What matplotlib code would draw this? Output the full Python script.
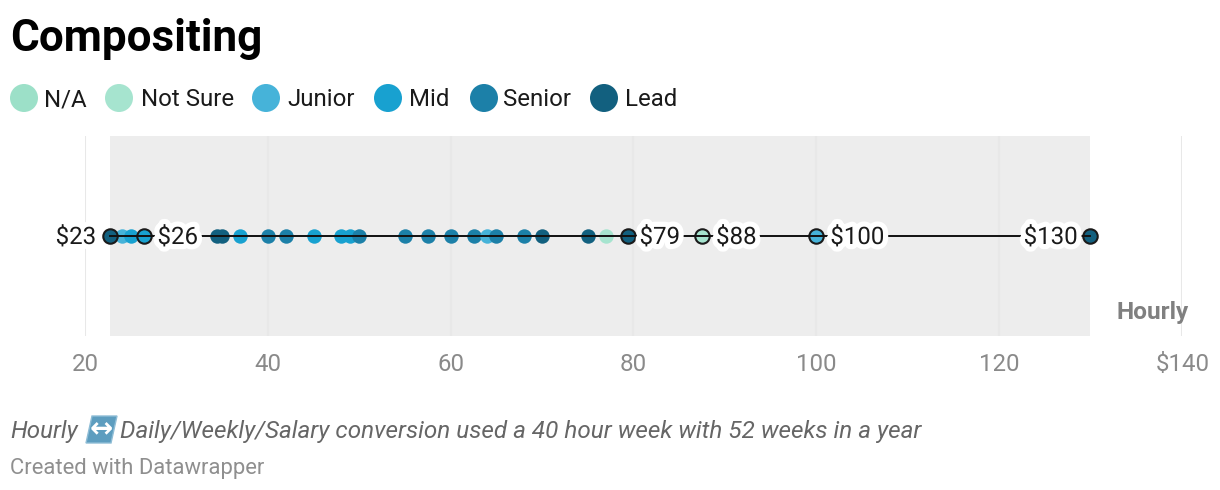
import matplotlib
matplotlib.use("Agg")
import matplotlib.pyplot as plt
import matplotlib.patheffects as pe
from matplotlib.patches import Polygon
from matplotlib.transforms import Affine2D

W, H = 1220, 490
plt.rcParams['font.family'] = ['Roboto', 'DejaVu Sans']

levels = ["N/A", "Not Sure", "Junior", "Mid", "Senior", "Lead"]
level_colors = ["#9ce0c8", "#a6e4cf", "#46b3d9", "#18a1d0", "#1c80a8", "#12607f"]

dot_values = [24, 25, 34.4, 35, 37, 40, 42, 45, 48, 49, 50, 55, 57.5, 60, 62.5,
              64, 65, 68, 70, 75, 77]
dot_levels = ["Junior", "Mid", "Lead", "Lead", "Mid", "Senior", "Senior", "Mid", "Mid", "Mid", "Senior",
              "Senior", "Senior", "Senior", "Senior", "Junior", "Senior", "Senior", "Lead", "Lead", "Not Sure"]
marked_values = [22.75, 26.4, 79.35, 87.5, 100, 129.9]
marked_levels = ["Lead", "Mid", "Lead", "Not Sure", "Junior", "Lead"]
marked_labels = ["$23", "$26", "$79", "$88", "$100", "$130"]
xticks = [20, 40, 60, 80, 100, 120, 140]
xticklabels = ["20", "40", "60", "80", "100", "120", "$140"]

col = dict(zip(levels, level_colors))
fig = plt.figure(figsize=(W / 100, H / 100), dpi=100, facecolor="white")
px = Affine2D().scale(1, -1).translate(0, H)   # pixel coords, y down

ax = fig.add_axes([85 / W, 1 - 336 / H, (1182 - 85) / W, 200 / H])
ax.set_xlim(20, 140)
ax.set_ylim(-1, 1)
ax.axis("off")
ax.axvspan(min(marked_values), max(marked_values), color="#ededed", lw=0, zorder=1)
for t in xticks:
    ax.axvline(t, color="#e8e8e8", lw=1.5, zorder=1.5)

for v, l in zip(dot_values, dot_levels):
    ax.plot([v], [0], "o", ms=10.4, mfc=col[l], mec="none", zorder=2, clip_on=False)
for v, l in zip(marked_values, marked_levels):
    ax.plot([v], [0], "o", ms=10.4, mfc=col[l], mec="#1a1a1a", mew=1.5, zorder=3, clip_on=False)
ax.plot([min(marked_values), max(marked_values)], [0, 0], color="#111111", lw=1.4, zorder=4, clip_on=False)

halo = [pe.withStroke(linewidth=7.5, foreground="white")]
label_offsets = [-14, 14, 12, 14, 14, -12]
for v, s, off in zip(marked_values, marked_labels, label_offsets):
    ax.annotate(s, (v, 0), xytext=(off * 0.72, 0.72), textcoords="offset points",
                ha="right" if off < 0 else "left", va="center_baseline", fontsize=17.3,
                color="#1a1a1a", path_effects=halo, zorder=5)

for t, s in zip(xticks, xticklabels):
    ha = "right" if s == "$140" else "center"
    ax.annotate(s, (t, -1), xytext=(27.5 * 0.72 if s == "$140" else 0, -26 * 0.72), textcoords="offset points",
                ha=ha, va="center_baseline", fontsize=17.3, color="#8a8a8a", annotation_clip=False)

fig.text(1189, 310, "Hourly", transform=px, ha="right", va="center_baseline", fontsize=17.6,
         fontweight="bold", color="#808080")

fig.text(10, 34.5, "Compositing", transform=px, ha="left", va="center_baseline", fontsize=31.7,
         fontweight="bold", color="black")

legend_x = [24, 119, 266, 388, 484, 604]
legend_tx = [44.5, 141, 287.5, 409, 503, 625]
for x, tx, lab, c in zip(legend_x, legend_tx, levels, level_colors):
    fig.add_artist(plt.Circle((x, 98), 14, transform=px, color=c, lw=0))
    fig.text(tx, 97, lab, transform=px, ha="left", va="center_baseline", fontsize=17.3, color="#1a1a1a")

note_color = "#666666"
fig.text(10, 429, "Hourly", transform=px, ha="left", va="center_baseline", fontsize=17.4,
         style="italic", color=note_color)
fig.add_artist(Polygon([[86, 443], [111, 443], [117, 416], [92, 416]], closed=True, transform=px,
                       facecolor="#5d9dbf", edgecolor="#8fbdd6", lw=1))
fig.text(101.5, 429, "\u2194", transform=px, ha="center", va="center", fontsize=20,
         color="white", family="DejaVu Sans", fontweight="bold")
fig.text(120, 429, "Daily/Weekly/Salary conversion used a 40 hour week with 52 weeks in a year",
         transform=px, ha="left", va="center_baseline", fontsize=17.45, style="italic", color=note_color)
fig.text(10, 466, "Created with Datawrapper", transform=px, ha="left", va="center_baseline",
         fontsize=15.8, color="#8f8f8f")

fig.savefig("out.png", dpi=100)
